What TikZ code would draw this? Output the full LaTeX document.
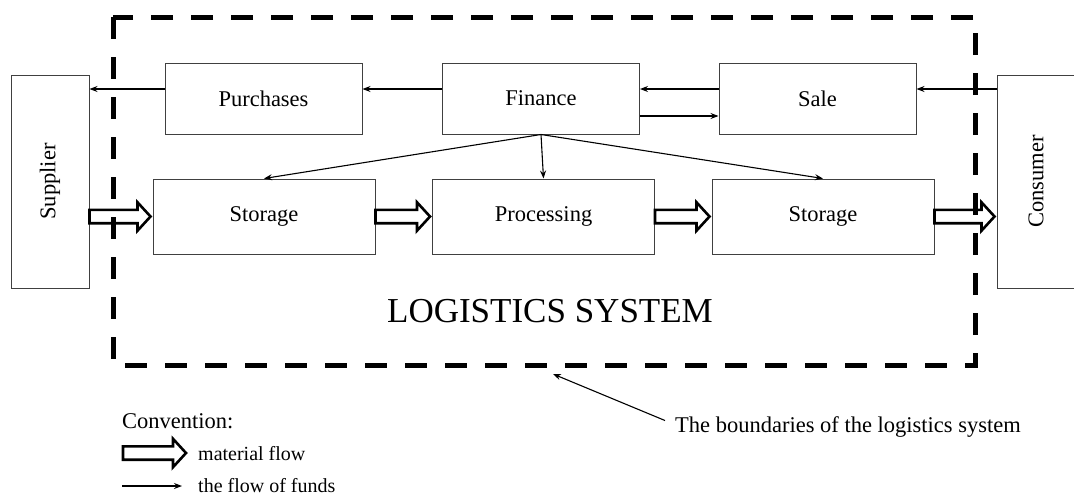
\documentclass[tikz,border=0pt]{standalone}
\usepackage{fontspec}
\setmainfont{Liberation Serif}
\usepackage{tikz}
\usetikzlibrary{positioning,arrows.meta,calc}
\tikzset{
  >={Stealth[length=8pt,width=6pt]},
  block/.style={draw=black!75, line width=1pt, minimum width=197pt, minimum height=71pt,
    font=\fontsize{22.5}{26}\selectfont},
  store/.style={block, minimum width=222pt, minimum height=75pt},
  party/.style={block, minimum width=78pt, minimum height=213pt},
  funds/.style={->, line width=1.1pt},
  fatline/.style={draw=black, fill=white, line width=2.6pt, line join=miter},
  boundary/.style={line width=5pt, dash pattern=on 22pt off 18pt},
  txt/.style={inner sep=0pt, font=\fontsize{22.5}{26}\selectfont},
  legtxt/.style={inner sep=0pt, font=\fontsize{20}{24}\selectfont},
}
% fat hollow arrow for the material flow
\newcommand{\matflow}[2]{%
  \draw[fatline] let \p1=(#1), \p2=(#2) in
    (\x1,\y1+6.7pt) -- (\x2-15pt,\y1+6.7pt) -- (\x2-15pt,\y1+14.2pt) -- (\x2-2pt,\y1)
    -- (\x2-15pt,\y1-14.2pt) -- (\x2-15pt,\y1-6.7pt) -- (\x1,\y1-6.7pt) -- cycle;}

\begin{document}
\begin{tikzpicture}[
x=1pt, y=-1pt,
node distance=56.5pt
]
\useasboundingbox (0,0) rectangle (1074,496);

\node[block] (pur) at (263.5,98.5) {Purchases};
\node[block,right=79.5pt of pur] (fin) {Finance};
\node[block,right=78.5pt of fin] (sale) {Sale};

\node[store] (st1) at (264,216.5) {Storage};
\node[store,right=of st1] (proc) {Processing};
\node[store,right=of proc] (st2) {Storage};

\node[party] (sup) at (50,181.5) {\rotatebox{90}{Supplier}};
\node[party] (con) at (1036,181.5) {\rotatebox{90}{Consumer}};

% flow of funds
\coordinate (upper) at (0,89);
\coordinate (lower) at (0,116);
\draw[funds] (pur.west |- upper) -- (sup.east |- upper);
\draw[funds] (fin.west |- upper) -- (pur.east |- upper);
\draw[funds] (sale.west |- upper) -- (fin.east |- upper);
\draw[funds] (fin.east |- lower) -- (sale.west |- lower);
\draw[funds] (con.west |- upper) -- (sale.east |- upper);
\draw[funds] (fin.south) -- (st1.north);
\draw[funds] (fin.south) -- (proc.north);
\draw[funds] (fin.south) -- (st2.north);

% material flow
\matflow{sup.east |- st1.west}{st1.west}
\matflow{st1.east}{proc.west}
\matflow{proc.east}{st2.west}
\matflow{st2.east}{con.west |- st2.east}

\draw[boundary] (113,17) rectangle (975,365);

\node[txt,anchor=base,font=\fontsize{35}{40}\selectfont] (title) at (550,322) {LOGISTICS SYSTEM};

\node[txt,anchor=base west] (bdtext) at (675,432) {The boundaries of the logistics system};
\coordinate (bnd) at (553,374);
\draw[funds] ([shift={(-10pt,6pt)}]bdtext.west) -- (bnd);

% convention
\node[txt,anchor=base west] (conv) at (122,428) {Convention:};
\coordinate (lgA) at (123,453);
\coordinate (lgB) at (188,453);
\matflow{lgA}{lgB}
\node[legtxt,anchor=base west] (lgmat) at (198,460) {material flow};
\coordinate (lgC) at (122,486);
\coordinate (lgD) at (182,486);
\draw[funds] (lgC) -- (lgD);
\node[legtxt,anchor=base west] (lgfund) at (198,492) {the flow of funds};
\end{tikzpicture}
\end{document}
